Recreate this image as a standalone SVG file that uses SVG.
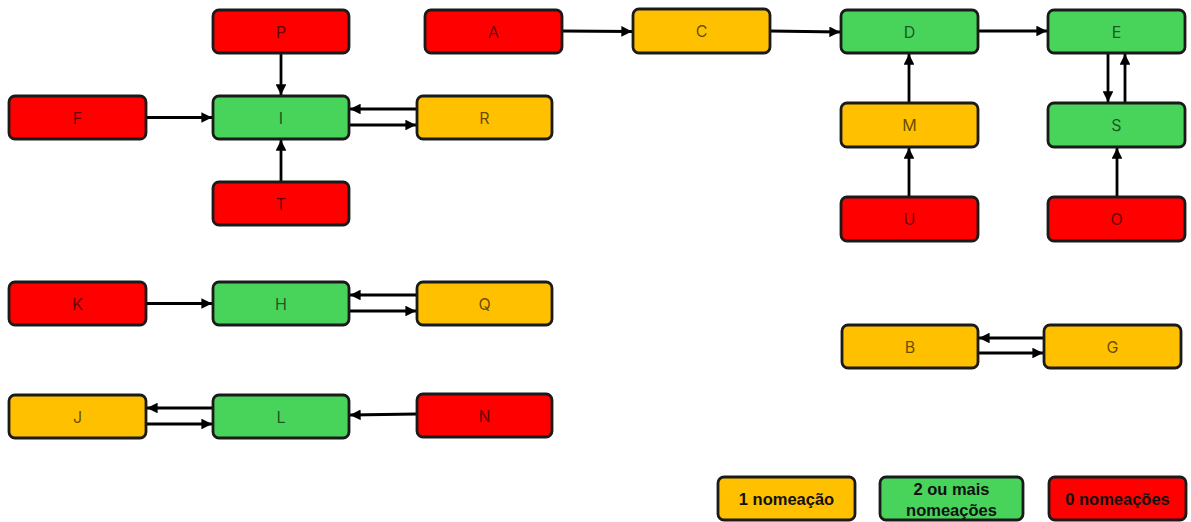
<svg xmlns="http://www.w3.org/2000/svg" width="1191" height="522" viewBox="0 0 1191 522">
<style>
.n rect{stroke:#1a1a1a;stroke-width:2.8}
.r rect{fill:#ff0000}
.o rect{fill:#ffc000}
.g rect{fill:#48d35a}
.n text{font-family:Inter,"Noto Sans",sans-serif;font-size:16px;fill:#000;fill-opacity:0.62;text-anchor:middle;dominant-baseline:central}
.lg text{font-family:"Liberation Sans",Arial,sans-serif;font-weight:bold;font-size:16.5px;fill:#111;fill-opacity:1}
#edges line{stroke:#000;stroke-width:2.8;marker-end:url(#ah)}
</style>
<defs>
<marker id="ah" viewBox="0 0 10 10" refX="10" refY="5" markerWidth="4" markerHeight="3.8" orient="auto" markerUnits="strokeWidth">
<path d="M0,0 L10,5 L0,10 z" fill="#000"/>
</marker>
</defs>
<rect width="1191" height="522" fill="#fff"/>
<g id="edges">
<line x1="281" y1="53" x2="281" y2="95"/>
<line x1="281" y1="182" x2="281" y2="140"/>
<line x1="146" y1="117.5" x2="212" y2="117.5"/>
<line x1="417" y1="109" x2="350" y2="109"/>
<line x1="349" y1="125" x2="416" y2="125"/>
<line x1="562" y1="31" x2="632" y2="31.5"/>
<line x1="770" y1="31" x2="840" y2="32"/>
<line x1="978" y1="31" x2="1047" y2="31"/>
<line x1="909" y1="103" x2="909" y2="54"/>
<line x1="909" y1="197" x2="909" y2="148"/>
<line x1="1108" y1="53" x2="1108" y2="102"/>
<line x1="1125" y1="103" x2="1125" y2="54"/>
<line x1="1117" y1="197" x2="1117" y2="148"/>
<line x1="146" y1="303.5" x2="212" y2="303.5"/>
<line x1="417" y1="295" x2="350" y2="295"/>
<line x1="349" y1="311" x2="416" y2="311"/>
<line x1="1044" y1="338" x2="979" y2="338"/>
<line x1="978" y1="353" x2="1043" y2="353"/>
<line x1="213" y1="408" x2="147" y2="408"/>
<line x1="146" y1="424" x2="212" y2="424"/>
<line x1="417" y1="414" x2="350" y2="415"/>
</g>
<g id="P" class="n r"><rect x="213" y="10" width="136" height="43" rx="6"/><text x="281" y="31.5">P</text></g>
<g id="F" class="n r"><rect x="9" y="96" width="137" height="43" rx="6"/><text x="77.5" y="117.5">F</text></g>
<g id="I" class="n g"><rect x="213" y="96" width="136" height="43" rx="6"/><text x="281" y="117.5">I</text></g>
<g id="R" class="n o"><rect x="417" y="96" width="135" height="43" rx="6"/><text x="484.5" y="117.5">R</text></g>
<g id="T" class="n r"><rect x="213" y="182" width="136" height="43" rx="6"/><text x="281" y="203.5">T</text></g>
<g id="A" class="n r"><rect x="425" y="10" width="137" height="43" rx="6"/><text x="493.5" y="31.5">A</text></g>
<g id="C" class="n o"><rect x="633" y="9" width="137" height="44" rx="6"/><text x="701.5" y="31">C</text></g>
<g id="D" class="n g"><rect x="841" y="10" width="137" height="43" rx="6"/><text x="909.5" y="31.5">D</text></g>
<g id="E" class="n g"><rect x="1048" y="10" width="137" height="43" rx="6"/><text x="1116.5" y="31.5">E</text></g>
<g id="M" class="n o"><rect x="841" y="103" width="137" height="44" rx="6"/><text x="909.5" y="125">M</text></g>
<g id="S" class="n g"><rect x="1048" y="103" width="137" height="44" rx="6"/><text x="1116.5" y="125">S</text></g>
<g id="U" class="n r"><rect x="841" y="197" width="137" height="44" rx="6"/><text x="909.5" y="219">U</text></g>
<g id="O" class="n r"><rect x="1048" y="197" width="137" height="44" rx="6"/><text x="1116.5" y="219">O</text></g>
<g id="K" class="n r"><rect x="9" y="282" width="137" height="43" rx="6"/><text x="77.5" y="303.5">K</text></g>
<g id="H" class="n g"><rect x="213" y="282" width="136" height="43" rx="6"/><text x="281" y="303.5">H</text></g>
<g id="Q" class="n o"><rect x="417" y="282" width="135" height="43" rx="6"/><text x="484.5" y="303.5">Q</text></g>
<g id="B" class="n o"><rect x="842" y="325" width="136" height="43" rx="6"/><text x="910" y="346.5">B</text></g>
<g id="G" class="n o"><rect x="1044" y="325" width="137" height="43" rx="6"/><text x="1112.5" y="346.5">G</text></g>
<g id="J" class="n o"><rect x="9" y="395" width="137" height="43" rx="6"/><text x="77.5" y="416.5">J</text></g>
<g id="L" class="n g"><rect x="213" y="395" width="136" height="43" rx="6"/><text x="281" y="416.5">L</text></g>
<g id="N" class="n r"><rect x="417" y="394" width="135" height="43" rx="6"/><text x="484.5" y="415.5">N</text></g>
<g id="legend1" class="n o lg"><rect x="718" y="477" width="137" height="43" rx="6"/><text x="786.5" y="498.5">1 nomeação</text></g>
<g id="legend2" class="n g lg"><rect x="880" y="477" width="143" height="43" rx="6"/><text x="951.5" y="489">2 ou mais</text><text x="951.5" y="510">nomeações</text></g>
<g id="legend0" class="n r lg"><rect x="1049" y="477" width="137" height="43" rx="6"/><text x="1117.5" y="498.5">0 nomeações</text></g>
</svg>
